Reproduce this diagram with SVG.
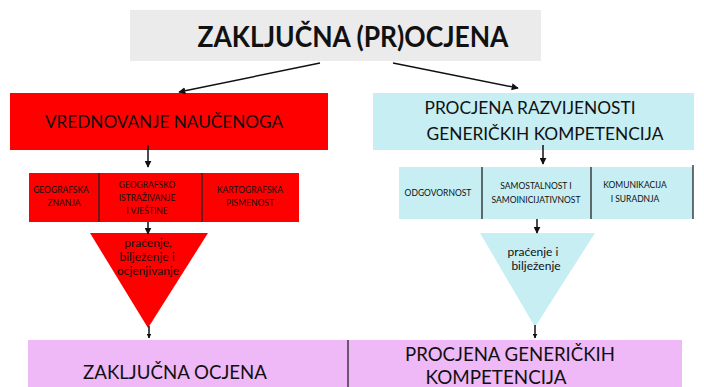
<svg xmlns="http://www.w3.org/2000/svg" width="704" height="387" viewBox="0 0 704 387">
<style>
text{font-family:Lato,"Open Sans","Liberation Sans",sans-serif;fill:#111;text-anchor:middle}
.t{font-size:29px;font-weight:bold}
.m{font-size:18px}
.s{font-size:8.5px}
.p{font-size:12px}
.b{font-size:19px}
.ln{stroke:#111;stroke-width:1.5;fill:none}
.dv{stroke:#222;stroke-width:1.3}
</style>
<defs>
<marker id="ah" viewBox="0 0 10 10" refX="9" refY="5" markerWidth="7" markerHeight="7" orient="auto" markerUnits="userSpaceOnUse"><path d="M0,0 L10,5 L0,10 z" fill="#111"/></marker>
<marker id="ahs" viewBox="0 0 10 10" refX="9" refY="5" markerWidth="5" markerHeight="5" orient="auto" markerUnits="userSpaceOnUse"><path d="M0,0 L10,5 L0,10 z" fill="#111"/></marker>
</defs>
<rect width="704" height="387" fill="#fff"/>
<g id="top">
<rect x="130" y="10" width="411" height="51" fill="#ebebeb"/>
<text class="t" x="353" y="47" textLength="311" lengthAdjust="spacingAndGlyphs">ZAKLJUČNA (PR)OCJENA</text>
</g>
<g id="vrednovanje">
<rect x="10" y="93" width="318" height="57" fill="#ff0000"/>
<text class="m" x="164" y="128" textLength="238" lengthAdjust="spacingAndGlyphs">VREDNOVANJE NAUČENOGA</text>
</g>
<g id="procjena">
<rect x="373" y="93" width="321" height="57" fill="#c6eef3"/>
<text class="m" x="530" y="114" textLength="211" lengthAdjust="spacingAndGlyphs">PROCJENA RAZVIJENOSTI</text>
<text class="m" x="545" y="140" textLength="237" lengthAdjust="spacingAndGlyphs">GENERIČKIH KOMPETENCIJA</text>
</g>
<g id="red-row">
<rect x="29" y="173" width="270" height="49" fill="#ff0000"/>
<line class="dv" x1="99" y1="173" x2="99" y2="222"/>
<line class="dv" x1="202" y1="173" x2="202" y2="222"/>
<text class="s" x="61" y="193">GEOGRAFSKA</text>
<text class="s" x="64" y="206">ZNANJA</text>
<text class="s" x="147" y="188">GEOGRAFSKO</text>
<text class="s" x="147" y="201">ISTRAŽIVANJE</text>
<text class="s" x="147" y="214">I VJEŠTINE</text>
<text class="s" x="250" y="193">KARTOGRAFSKA</text>
<text class="s" x="250" y="206">PISMENOST</text>
</g>
<g id="blue-row">
<rect x="399" y="167" width="294" height="52" fill="#c6eef3"/>
<line class="dv" x1="482" y1="167" x2="482" y2="219"/>
<line class="dv" x1="591" y1="167" x2="591" y2="219"/>
<line class="dv" x1="693" y1="165" x2="693" y2="219"/>
<text class="s" x="438" y="196">ODGOVORNOST</text>
<text class="s" x="536" y="189">SAMOSTALNOST I</text>
<text class="s" x="536" y="203">SAMOINICIJATIVNOST</text>
<text class="s" x="635" y="188">KOMUNIKACIJA</text>
<text class="s" x="635" y="202">I SURADNJA</text>
</g>
<g id="red-triangle">
<polygon points="90,233 208,233 148,328" fill="#ff0000"/>
<text class="p" x="148" y="247">praćenje,</text>
<text class="p" x="147" y="261">bilježenje i</text>
<text class="p" x="148" y="275">ocjenjivanje</text>
</g>
<g id="blue-triangle">
<polygon points="480,233 595,233 535,327" fill="#c6eef3"/>
<text class="p" x="533" y="256">praćenje i</text>
<text class="p" x="536" y="270">bilježenje</text>
</g>
<g id="bottom">
<rect x="28" y="340" width="654" height="47" fill="#efb8f7"/>
<line class="dv" x1="348" y1="340" x2="348" y2="387"/>
<text class="b" x="175" y="379" textLength="184" lengthAdjust="spacingAndGlyphs">ZAKLJUČNA OCJENA</text>
<text class="b" x="510" y="361" textLength="210" lengthAdjust="spacingAndGlyphs">PROCJENA GENERIČKIH</text>
<text class="b" x="496" y="384" textLength="141" lengthAdjust="spacingAndGlyphs">KOMPETENCIJA</text>
</g>
<g id="connectors">
<line class="ln" x1="320" y1="63" x2="179" y2="92" marker-end="url(#ah)"/>
<line class="ln" x1="393" y1="63" x2="518" y2="88" marker-end="url(#ah)"/>
<line class="ln" x1="148" y1="145" x2="148" y2="167" marker-end="url(#ah)"/>
<line class="ln" x1="543" y1="145" x2="543" y2="164" marker-end="url(#ah)"/>
<line class="ln" x1="148" y1="222" x2="148" y2="234" marker-end="url(#ah)"/>
<line class="ln" x1="537" y1="219" x2="537" y2="233" marker-end="url(#ah)"/>
<line class="ln" x1="149" y1="326" x2="149" y2="338" marker-end="url(#ahs)"/>
<line class="ln" x1="535" y1="325" x2="535" y2="338" marker-end="url(#ahs)"/>
</g>
</svg>
